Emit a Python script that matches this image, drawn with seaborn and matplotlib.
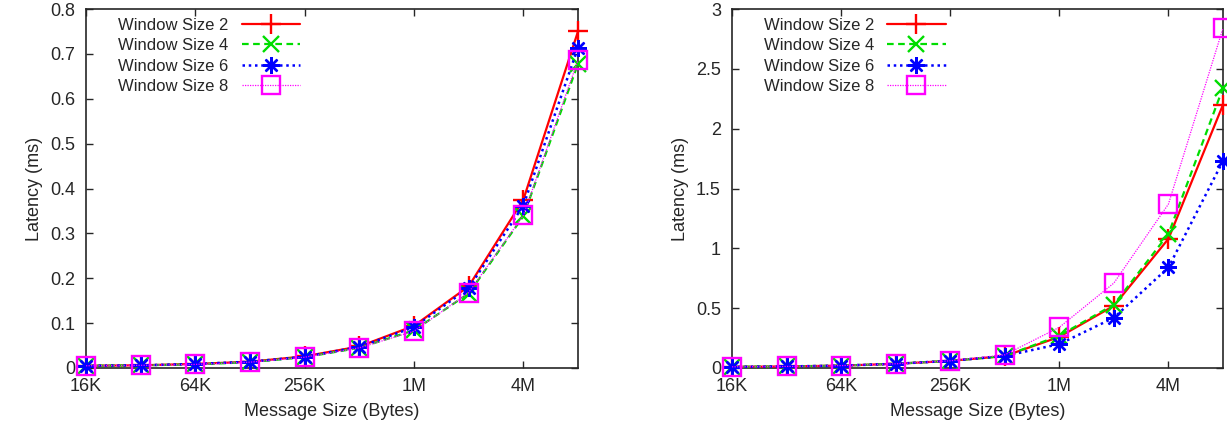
import matplotlib
matplotlib.use("Agg")
import matplotlib.pyplot as plt
import pandas as pd
import seaborn as sns

# message sizes in KB
sizes = [16, 32, 64, 128, 256, 512, 1024, 2048, 4096, 8192]
tick_sizes = [16, 64, 256, 1024, 4096]
tick_labels = ["16K", "64K", "256K", "1M", "4M"]
series = ["Window Size 2", "Window Size 4", "Window Size 6", "Window Size 8"]

left_w2 = [0.005, 0.006, 0.009, 0.014, 0.026, 0.048, 0.094, 0.182, 0.375, 0.750]
left_w4 = [0.005, 0.006, 0.008, 0.013, 0.024, 0.045, 0.084, 0.166, 0.338, 0.678]
left_w6 = [0.005, 0.006, 0.009, 0.014, 0.025, 0.047, 0.091, 0.178, 0.362, 0.714]
left_w8 = [0.005, 0.006, 0.008, 0.013, 0.024, 0.045, 0.082, 0.168, 0.340, 0.686]

right_w2 = [0.01, 0.013, 0.02, 0.035, 0.06, 0.10, 0.26, 0.52, 1.08, 2.20]
right_w4 = [0.01, 0.013, 0.02, 0.035, 0.06, 0.10, 0.27, 0.53, 1.12, 2.34]
right_w6 = [0.01, 0.013, 0.02, 0.035, 0.06, 0.10, 0.20, 0.42, 0.84, 1.73]
right_w8 = [0.01, 0.013, 0.02, 0.035, 0.06, 0.11, 0.34, 0.71, 1.37, 2.84]

colors = ["#ff0000", "#00dd00", "#0000ff", "#ff00ff"]
markers = ["+", "x", (8, 2, 0), "s"]
msizes = [14, 11, 12, 13]
linestyles = ["-", (0, (3, 2)), (0, (1, 1.5)), (0, (1, 1))]
linewidths = [1.6, 1.6, 1.8, 0.9]

sns.set_style("ticks")
plt.rcParams["font.family"] = ["Liberation Sans", "DejaVu Sans"]
plt.rcParams["font.size"] = 13


def make_frame(vals):
    rows = []
    for name, v in zip(series, vals):
        for s, y in zip(sizes, v):
            rows.append({"size": s, "latency": y, "series": name})
    return pd.DataFrame(rows)


def draw(ax, df, ylim, yticks, ylabels):
    for i, name in enumerate(series):
        sub = df[df.series == name]
        mfc = "none" if markers[i] == "s" else colors[i]
        sns.lineplot(
            x="size", y="latency", data=sub, ax=ax, color=colors[i],
            marker=markers[i], markersize=msizes[i], markeredgewidth=1.7,
            markerfacecolor=mfc, markeredgecolor=colors[i],
            linestyle=linestyles[i], linewidth=linewidths[i], label=name,
            clip_on=False, zorder=3 + i,
        )
    ax.set_xscale("log", base=2)
    ax.set_xlim(16, 8192)
    ax.set_ylim(*ylim)
    ax.set_xticks(tick_sizes)
    ax.set_xticklabels(tick_labels)
    ax.minorticks_off()
    ax.set_yticks(yticks)
    ax.set_yticklabels(ylabels)
    ax.set_xlabel("Message Size (Bytes)", labelpad=6)
    ax.set_ylabel("Latency (ms)", labelpad=5)
    ax.tick_params(direction="in", top=True, right=True, length=5, width=1.0,
                   labelsize=13)
    ax.tick_params(axis="y", pad=8)
    ax.tick_params(axis="x", pad=7)
    for sp in ax.spines.values():
        sp.set_visible(True)
        sp.set_linewidth(1.2)
        sp.set_zorder(2)
    ax.legend(loc="upper right", bbox_to_anchor=(0.435, 0.975), frameon=False,
              markerfirst=False, handlelength=3.5, handletextpad=0.8,
              labelspacing=0.32, fontsize=12, borderaxespad=0, borderpad=0)


fig = plt.figure(figsize=(12.27, 4.25), dpi=100)
ax1 = fig.add_axes([86 / 1227, 57 / 425, 492 / 1227, 359 / 425])
ax2 = fig.add_axes([732 / 1227, 57 / 425, 491 / 1227, 359 / 425])

draw(ax1, make_frame([left_w2, left_w4, left_w6, left_w8]), (0, 0.8),
     [0, 0.1, 0.2, 0.3, 0.4, 0.5, 0.6, 0.7, 0.8],
     ["0", "0.1", "0.2", "0.3", "0.4", "0.5", "0.6", "0.7", "0.8"])
draw(ax2, make_frame([right_w2, right_w4, right_w6, right_w8]), (0, 3),
     [0, 0.5, 1, 1.5, 2, 2.5, 3],
     ["0", "0.5", "1", "1.5", "2", "2.5", "3"])

fig.savefig("out.png", dpi=100)
